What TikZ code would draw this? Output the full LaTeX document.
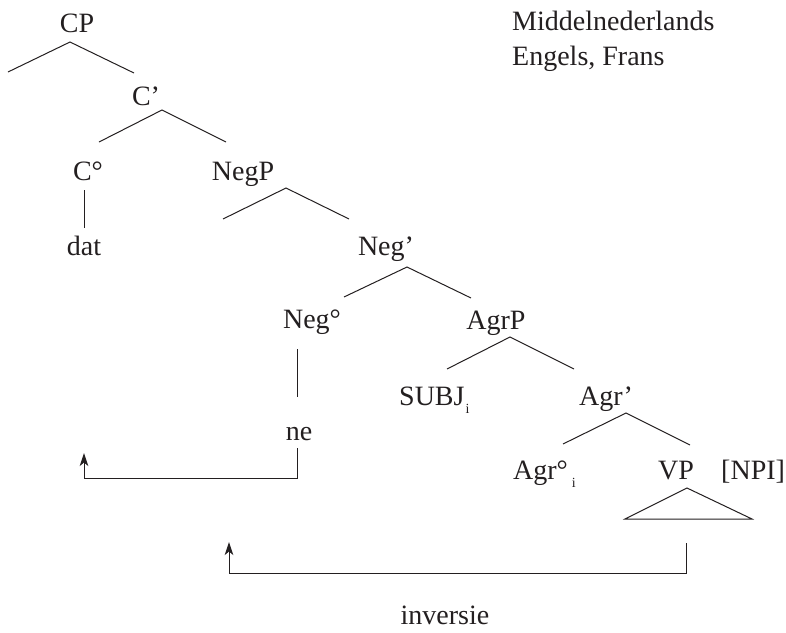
\documentclass[tikz,border=0pt]{standalone}
\usepackage{fontspec}
\setmainfont{Liberation Serif}
\usetikzlibrary{arrows.meta}
\definecolor{ink}{HTML}{231F20}
\newcommand{\sbi}{\raisebox{-8pt}{\fontsize{14}{14}\selectfont i}}
\begin{document}
\begin{tikzpicture}[x=1pt,y=-1pt,
  lab/.style={inner sep=0pt,anchor=base,text=ink,font=\fontsize{28}{33}\selectfont},
  labw/.style={lab,anchor=base west},
  branch/.style={draw=ink,line width=1pt,line join=miter},
  move/.style={draw=ink,line width=1pt,-{Stealth[length=13pt,width=8.5pt,inset=3.5pt]}}]
\useasboundingbox (0,0) rectangle (786,632);
% labels
\node[lab] (CP) at (77,32) {CP};
\node[lab] (Cbar) at (146,105) {C’};
\node[lab] (C0) at (88,180) {C°};
\node[lab] (NegP) at (243,180) {NegP};
\node[lab] (dat) at (84,255) {dat};
\node[lab] (Negbar) at (386,255) {Neg’};
\node[lab] (Neg0) at (312,328) {Neg°};
\node[lab] (AgrP) at (496,329) {AgrP};
\node[labw] (SUBJ) at (399,405) {SUBJ\hspace{1pt}\sbi};
\node[lab] (ne) at (299,440) {ne};
\node[lab] (Agrbar) at (606,405) {Agr’};
\node[labw] (Agr0) at (513,479) {Agr°\hspace{4pt}\sbi};
\node[lab] (VP) at (676,479) {VP};
\node[labw] (NPI) at (721,479) {[NPI]};
\node[lab] (inv) at (445,624) {inversie};
\node[labw] (mnl) at (512,30) {Middelnederlands};
\node[labw] (ef) at (512,65) {Engels, Frans};
% branch points
\coordinate (cpL) at (8,72);   \coordinate (cpA) at (70,42);   \coordinate (cpR) at (134,73);
\coordinate (cbL) at (99,142); \coordinate (cbA) at (162,110); \coordinate (cbR) at (226,142);
\coordinate (c0T) at (84,190); \coordinate (c0B) at (84,228);
\coordinate (npL) at (223,219);\coordinate (npA) at (286,188); \coordinate (npR) at (349,219);
\coordinate (nbL) at (344,297);\coordinate (nbA) at (407,267); \coordinate (nbR) at (471,298);
\coordinate (n0T) at (297,349);\coordinate (n0B) at (297,397);
\coordinate (apL) at (447,369);\coordinate (apA) at (510,337); \coordinate (apR) at (574,369);
\coordinate (abL) at (563,444);\coordinate (abA) at (626,413); \coordinate (abR) at (690,445);
\coordinate (vpL) at (625,519);\coordinate (vpA) at (687,488); \coordinate (vpR) at (752,519);
\coordinate (m1S) at (297,448);\coordinate (m1C) at (297,478); \coordinate (m1D) at (84,478); \coordinate (m1E) at (84,453);
\coordinate (m2S) at (686,543);\coordinate (m2C) at (686,573); \coordinate (m2D) at (229,573); \coordinate (m2E) at (229,542);
% tree
\draw[branch] (cpL) -- (cpA) -- (cpR);
\draw[branch] (cbL) -- (cbA) -- (cbR);
\draw[branch] (c0T) -- (c0B);
\draw[branch] (npL) -- (npA) -- (npR);
\draw[branch] (nbL) -- (nbA) -- (nbR);
\draw[branch] (n0T) -- (n0B);
\draw[branch] (apL) -- (apA) -- (apR);
\draw[branch] (abL) -- (abA) -- (abR);
\draw[branch] (vpL) -- (vpA) -- (vpR) -- cycle;
% movement arrows
\draw[move] (m1S) -- (m1C) -- (m1D) -- (m1E);
\draw[move] (m2S) -- (m2C) -- (m2D) -- (m2E);
\end{tikzpicture}
\end{document}
